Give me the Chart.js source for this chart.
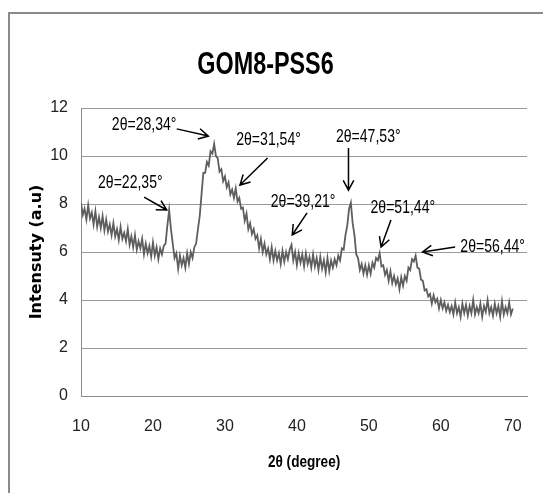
<!DOCTYPE html>
<html>
<head>
<meta charset="utf-8">
<title>GOM8-PSS6</title>
<script src="https://cdn.jsdelivr.net/npm/chart.js@4/dist/chart.umd.min.js"></script>
<style>
  html, body { margin: 0; padding: 0; background: #fff; overflow: hidden; }
  #wrap { position: relative; width: 543px; height: 493px; overflow: hidden; }
  #frame { position: absolute; left: 8px; top: 12px; width: 600px; height: 600px; border: 2px solid #8a8a8a; box-sizing: border-box; }
  #xrd { position: absolute; left: 0; top: 0; }
</style>
</head>
<body>
<div id="wrap">
  <div id="frame"></div>
  <canvas id="xrd" width="543" height="493"></canvas>
</div>
<script>
// ----- data (2θ in degrees, intensity in a.u.) -----
const angles = [
  10.00, 10.25, 10.50, 10.75, 11.00, 11.25, 11.50, 11.75, 12.00, 12.25, 12.50, 12.75,
  13.00, 13.25, 13.50, 13.75, 14.00, 14.25, 14.50, 14.75, 15.00, 15.25, 15.50, 15.75,
  16.00, 16.25, 16.50, 16.75, 17.00, 17.25, 17.50, 17.75, 18.00, 18.25, 18.50, 18.75,
  19.00, 19.25, 19.50, 19.75, 20.00, 20.25, 20.50, 20.75, 21.00, 21.25, 21.50, 21.75,
  22.00, 22.25, 22.50, 22.75, 23.00, 23.25, 23.50, 23.75, 24.00, 24.25, 24.50, 24.75,
  25.00, 25.25, 25.50, 25.75, 26.00, 26.25, 26.50, 26.75, 27.00, 27.25, 27.50, 27.75,
  28.00, 28.25, 28.50, 28.75, 29.00, 29.25, 29.50, 29.75, 30.00, 30.25, 30.50, 30.75,
  31.00, 31.25, 31.50, 31.75, 32.00, 32.25, 32.50, 32.75, 33.00, 33.25, 33.50, 33.75,
  34.00, 34.25, 34.50, 34.75, 35.00, 35.25, 35.50, 35.75, 36.00, 36.25, 36.50, 36.75,
  37.00, 37.25, 37.50, 37.75, 38.00, 38.25, 38.50, 38.75, 39.00, 39.25, 39.50, 39.75,
  40.00, 40.25, 40.50, 40.75, 41.00, 41.25, 41.50, 41.75, 42.00, 42.25, 42.50, 42.75,
  43.00, 43.25, 43.50, 43.75, 44.00, 44.25, 44.50, 44.75, 45.00, 45.25, 45.50, 45.75,
  46.00, 46.25, 46.50, 46.75, 47.00, 47.25, 47.50, 47.75, 48.00, 48.25, 48.50, 48.75,
  49.00, 49.25, 49.50, 49.75, 50.00, 50.25, 50.50, 50.75, 51.00, 51.25, 51.50, 51.75,
  52.00, 52.25, 52.50, 52.75, 53.00, 53.25, 53.50, 53.75, 54.00, 54.25, 54.50, 54.75,
  55.00, 55.25, 55.50, 55.75, 56.00, 56.25, 56.50, 56.75, 57.00, 57.25, 57.50, 57.75,
  58.00, 58.25, 58.50, 58.75, 59.00, 59.25, 59.50, 59.75, 60.00, 60.25, 60.50, 60.75,
  61.00, 61.25, 61.50, 61.75, 62.00, 62.25, 62.50, 62.75, 63.00, 63.25, 63.50, 63.75,
  64.00, 64.25, 64.50, 64.75, 65.00, 65.25, 65.50, 65.75, 66.00, 66.25, 66.50, 66.75,
  67.00, 67.25, 67.50, 67.75, 68.00, 68.25, 68.50, 68.75, 69.00, 69.25, 69.50, 69.75,
  70.00
];

const intensity = [
  8.05, 7.55, 7.80, 7.35, 7.95, 7.40, 7.65, 7.15, 7.70, 7.05, 7.45, 7.00,
  7.50, 6.90, 7.35, 6.85, 7.15, 6.70, 7.20, 6.65, 6.95, 6.50, 7.05, 6.55,
  6.80, 6.45, 6.95, 6.30, 6.65, 6.20, 6.70, 6.10, 6.45, 6.15, 6.55, 5.90,
  6.35, 5.95, 6.25, 5.80, 6.40, 5.85, 6.20, 5.70, 6.15, 5.90, 6.25, 6.35,
  7.10, 7.75, 6.95, 6.35, 5.75, 5.95, 5.30, 5.85, 5.45, 5.75, 5.35, 5.95,
  5.50, 6.00, 5.75, 6.20, 6.35, 6.95, 7.50, 8.40, 9.30, 9.30, 9.75, 9.60,
  10.20, 10.10, 10.50, 10.00, 9.90, 9.35, 9.45, 8.95, 9.15, 8.70, 8.90, 8.40,
  8.60, 8.25, 8.65, 8.10, 8.25, 7.80, 7.85, 7.30, 7.60, 6.95, 7.20, 6.75,
  6.95, 6.55, 6.70, 6.15, 6.55, 6.00, 6.35, 5.90, 6.15, 5.70, 6.20, 5.65,
  6.05, 5.65, 5.95, 5.50, 6.05, 5.60, 6.00, 5.70, 6.10, 6.30, 5.65, 6.00,
  5.45, 5.95, 5.55, 5.90, 5.40, 5.95, 5.50, 5.80, 5.35, 5.90, 5.40, 5.75,
  5.25, 5.80, 5.30, 5.65, 5.15, 5.75, 5.20, 5.65, 5.35, 5.70, 5.45, 5.85,
  5.65, 6.15, 6.10, 6.70, 7.10, 7.80, 8.05, 7.20, 6.70, 5.90, 5.75, 5.25,
  5.50, 5.10, 5.45, 5.05, 5.45, 5.10, 5.55, 5.35, 5.75, 5.65, 5.95, 5.40,
  5.45, 5.05, 5.25, 4.80, 5.20, 4.70, 5.00, 4.65, 4.90, 4.45, 4.95, 4.60,
  5.00, 4.80, 5.35, 5.25, 5.70, 5.60, 5.85, 5.35, 5.30, 4.85, 4.80, 4.40,
  4.45, 4.15, 4.25, 3.85, 4.20, 3.90, 4.05, 3.65, 4.00, 3.65, 3.90, 3.55,
  3.80, 3.50, 3.75, 3.40, 3.90, 3.45, 3.70, 3.30, 3.85, 3.45, 3.80, 3.35,
  3.75, 3.45, 4.00, 3.40, 3.70, 3.45, 3.85, 3.30, 3.75, 3.50, 4.00, 3.45,
  3.70, 3.35, 3.85, 3.45, 3.75, 3.30, 3.95, 3.40, 3.70, 3.45, 3.90, 3.40,
  3.65
];

const xTicks = [10, 20, 30, 40, 50, 60, 70];
const yTicks = [0, 2, 4, 6, 8, 10, 12];

// peak labels: text centre and arrow (from -> to), all in axis units
const peakLabels = ['2θ=22,35°', '2θ=28,34°', '2θ=31,54°', '2θ=39,21°', '2θ=47,53°', '2θ=51,44°', '2θ=56,44°'];
const peakTextX  = [16.85, 18.77, 36.06, 40.86, 49.92, 54.72, 67.20];
const peakTextY  = [8.88, 11.29, 10.67, 8.08, 10.79, 7.83, 6.21];
const arrowFromX = [18.77, 23.30, 35.93, 41.41, 47.17, 53.07, 61.99];
const arrowFromY = [8.29, 11.13, 9.92, 7.63, 10.33, 7.33, 6.21];
const arrowToX   = [21.92, 27.70, 32.09, 39.35, 47.17, 51.70, 57.46];
const arrowToY   = [7.75, 10.83, 8.79, 6.71, 8.58, 6.21, 6.00];

const SANS = "'Liberation Sans', Arial, sans-serif";

// squeezed text, closer to a condensed face
function narrowText(ctx, txt, x, y, squeeze) {
  ctx.save();
  ctx.translate(x, y);
  ctx.scale(squeeze, 1);
  ctx.fillText(txt, 0, 0);
  ctx.restore();
}

// heading, x-axis caption, peak captions with their arrows
const peakArrows = {
  id: 'peakArrows',
  afterDraw(chart) {
    const { ctx, scales: { x, y } } = chart;
    ctx.save();
    ctx.fillStyle = '#000';
    ctx.strokeStyle = '#000';
    ctx.textAlign = 'center';
    ctx.textBaseline = 'middle';

    ctx.font = 'bold 32px ' + SANS;
    narrowText(ctx, 'GOM8-PSS6', chart.width / 2 - 6, 65, 0.73);

    ctx.font = 'bold 17px ' + SANS;
    narrowText(ctx, '2θ (degree)', (x.left + x.right) / 2, 462, 0.8);

    ctx.font = '18px ' + SANS;
    ctx.lineWidth = 1.5;
    peakLabels.forEach((txt, i) => {
      narrowText(ctx, txt, x.getPixelForValue(peakTextX[i]), y.getPixelForValue(peakTextY[i]), 0.78);
      const x0 = x.getPixelForValue(arrowFromX[i]), y0 = y.getPixelForValue(arrowFromY[i]);
      const x1 = x.getPixelForValue(arrowToX[i]), y1 = y.getPixelForValue(arrowToY[i]);
      const a = Math.atan2(y1 - y0, x1 - x0);
      const head = 11, spread = 0.5;
      ctx.beginPath();
      ctx.moveTo(x0, y0);
      ctx.lineTo(x1, y1);
      ctx.moveTo(x1 - head * Math.cos(a - spread), y1 - head * Math.sin(a - spread));
      ctx.lineTo(x1, y1);
      ctx.lineTo(x1 - head * Math.cos(a + spread), y1 - head * Math.sin(a + spread));
      ctx.stroke();
    });
    ctx.restore();
  }
};

new Chart(document.getElementById('xrd'), {
  type: 'line',
  data: {
    datasets: [{
      data: angles.map((a, i) => ({ x: a, y: intensity[i] })),
      borderColor: '#5e5e5e',
      borderWidth: 1.8,
      pointRadius: 0,
      tension: 0,
      fill: false
    }]
  },
  options: {
    responsive: false,
    animation: false,
    events: [],
    layout: { padding: { left: 0, right: 10, top: 108, bottom: 0 } },
    plugins: {
      legend: { display: false },
      tooltip: { enabled: false },
      title: { display: false }
    },
    scales: {
      x: {
        type: 'linear',
        min: 10,
        max: 72,
        afterBuildTicks: s => { s.ticks = xTicks.map(v => ({ value: v })); },
        afterFit: s => { s.height = 97; },
        grid: { color: 'rgba(0,0,0,0)', drawTicks: false },
        border: { display: true, color: '#8c8c8c', width: 1 },
        ticks: { color: '#222', padding: 21, maxRotation: 0, font: { family: SANS, size: 16 } },
        title: { display: false }
      },
      y: {
        min: 0,
        max: 12,
        afterBuildTicks: s => { s.ticks = yTicks.map(v => ({ value: v })); },
        afterFit: s => { s.width = 81; },
        grid: { color: '#9a9a9a', lineWidth: 1, drawTicks: false },
        border: { display: true, color: '#8c8c8c', width: 1 },
        ticks: { color: '#222', padding: 13, font: { family: SANS, size: 16 } },
        title: {
          display: true,
          text: 'Intensuty (a.u)',
          color: '#000',
          font: { family: "'DejaVu Sans', sans-serif", size: 16, weight: 'bold', lineHeight: 1.2 },
          padding: { top: 27, bottom: 0 }
        }
      }
    }
  },
  plugins: [peakArrows]
});
</script>
</body>
</html>
